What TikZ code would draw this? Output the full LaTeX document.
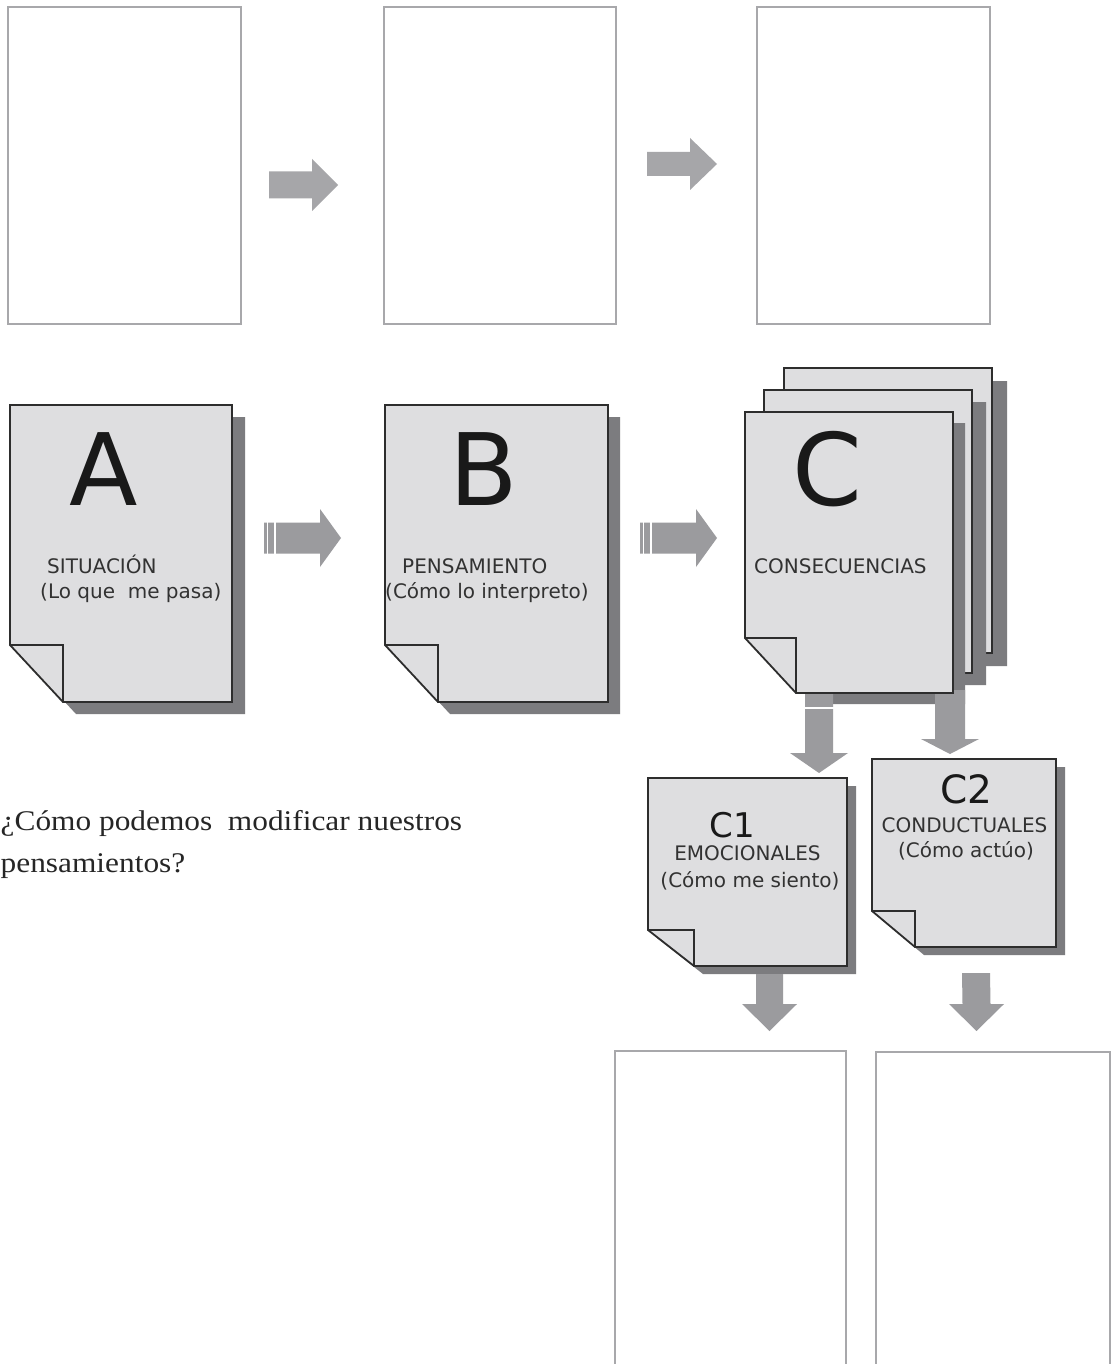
\documentclass[tikz,border=0pt]{standalone}
\usepackage{fontspec}
\usetikzlibrary{calc}
\newfontfamily\labelfont{DejaVu Sans}
\newfontfamily\qfont[FakeStretch=1.1]{Liberation Serif}

\definecolor{pagefill}{RGB}{222,222,224}
\definecolor{pageedge}{RGB}{45,45,45}
\definecolor{shadowgray}{RGB}{124,124,127}
\definecolor{arrowgray}{RGB}{155,155,158}
\definecolor{arrowlight}{RGB}{166,166,169}
\definecolor{framegray}{RGB}{168,168,171}
\definecolor{inkgray}{RGB}{50,50,50}

\tikzset{
  emptybox/.style={draw=framegray, line width=2pt, fill=white, inner sep=0pt, outer sep=0pt},
  pagearea/.style={inner sep=0pt, outer sep=0pt},
  sheet/.style={fill=pagefill, draw=pageedge, line width=1.8pt, line join=miter},
  foldline/.style={draw=pageedge, line width=1.6pt},
  bigletter/.style={font=\labelfont\fontsize{100}{100}\selectfont, text=black!90, inner sep=0pt, anchor=base},
  lbl/.style={font=\labelfont\fontsize{20}{24}\selectfont, text=inkgray, inner sep=0pt, anchor=base west},
  question/.style={font=\qfont\fontsize{28.5}{34}\selectfont, text=black!85, inner sep=0pt, anchor=base west},
  stripe/.style={draw=white, line width=1.6pt}
}

% page with a folded lower-left corner and a drop shadow
% #1 node, #2 fold width, #3 fold height, #4/#5 shadow offset
\newcommand\docpage[5]{%
  \fill[shadowgray] ($(#1.north west)+(#4,#5)$) -- ($(#1.north east)+(#4,#5)$)
    -- ($(#1.south east)+(#4,#5)$) -- ($(#1.south west)+(#2+#4,#5)$)
    -- ($(#1.south west)+(#4,-#3+#5)$) -- cycle;
  \path[sheet] (#1.north west) -- (#1.north east) -- (#1.south east)
    -- ($(#1.south west)+(#2,0)$) -- ($(#1.south west)+(0,-#3)$) -- cycle;
  \draw[foldline] ($(#1.south west)+(0,-#3)$) -- ($(#1.south west)+(#2,-#3)$)
    -- ($(#1.south west)+(#2,0)$);
}
% block arrow pointing right: #2 tail, #3 tip, #4 shaft half width, #5 head half width, #6 head length
\newcommand\arrowright[6][arrowgray]{%
  \fill[#1] ($(#2)+(0,-#4)$) -- ($(#3)+(-#6,-#4)$) -- ($(#3)+(-#6,-#5)$) -- (#3)
    -- ($(#3)+(-#6,#5)$) -- ($(#3)+(-#6,#4)$) -- ($(#2)+(0,#4)$) -- cycle;
}
% block arrow pointing down
\newcommand\arrowdown[6][arrowgray]{%
  \fill[#1] ($(#2)+(-#4,0)$) -- ($(#3)+(-#4,-#6)$) -- ($(#3)+(-#5,-#6)$) -- (#3)
    -- ($(#3)+(#5,-#6)$) -- ($(#3)+(#4,-#6)$) -- ($(#2)+(#4,0)$) -- cycle;
}

\begin{document}
\begin{tikzpicture}[x=1pt, y=-1pt]
\useasboundingbox (0,0) rectangle (1111,1364);
\fill[white] (0,0) rectangle (1111,1364);
\clip (0,0) rectangle (1111,1364);

% empty boxes of the upper row
\node[emptybox, minimum width=233pt, minimum height=317pt] (t1) at (124.5,165.5) {};
\node[emptybox, minimum width=232pt, minimum height=317pt] (t2) at (500,165.5) {};
\node[emptybox, minimum width=233pt, minimum height=317pt] (t3) at (873.5,165.5) {};

\coordinate (ta1) at (269,185);  \coordinate (tb1) at (338,185);
\coordinate (ta2) at (647,164);  \coordinate (tb2) at (717,164);
\arrowright[arrowlight]{ta1}{tb1}{13.5}{26}{26}
\arrowright[arrowlight]{ta2}{tb2}{12}{26}{27}

% A and B sheets
\node[pagearea, minimum width=222pt, minimum height=297pt] (A) at (121,553.5) {};
\node[pagearea, minimum width=223pt, minimum height=297pt] (B) at (496.5,553.5) {};
\docpage{A}{53}{57}{13}{12}
\docpage{B}{53}{57}{12}{12}

\node[bigletter] (lA) at (104,505) {A};
\node[lbl] (sA1) at (47,573) {SITUACIÓN};
\node[lbl] (sA2) at (40,598) {(Lo que~~me pasa)};
\node[bigletter] (lB) at (483.5,505) {B};
\node[lbl] (sB1) at (402,573) {PENSAMIENTO};
\node[lbl] (sB2) at (385,598) {(Cómo lo interpreto)};

% arrows between the sheets
\coordinate (ra1) at (264,538);  \coordinate (rb1) at (341,538);
\coordinate (ra2) at (640,538);  \coordinate (rb2) at (717,538);
\arrowright{ra1}{rb1}{15.5}{29}{21}
\arrowright{ra2}{rb2}{15.5}{29}{21}
\foreach \t in {ra1,ra2}{
  \draw[stripe] ($(\t)+(3.5,-16)$) -- ($(\t)+(3.5,16)$);
  \draw[stripe] ($(\t)+(11,-16)$) -- ($(\t)+(11,16)$);
}

% stack of C sheets
\node[pagearea, minimum width=208pt, minimum height=285pt] (Cb) at (888,510.5) {};
\node[pagearea, minimum width=208pt, minimum height=283pt] (Cm) at (868,531.5) {};
\node[pagearea, minimum width=208pt, minimum height=281pt] (C) at (849,552.5) {};
\docpage{Cb}{51}{55}{15}{13}
\docpage{Cm}{51}{55}{14}{12}
\fill[shadowgray] ($(C.north west)+(12,11)$) -- ($(C.north east)+(12,11)$)
  -- ($(C.south east)+(12,11)$) -- ($(C.south west)+(63,11)$) -- cycle;

% arrows leaving the stack
\coordinate (da1) at (819,690);  \coordinate (db1) at (819,773);
\coordinate (da2) at (950,690);  \coordinate (db2) at (950,754);
\arrowdown{da1}{db1}{14}{29}{20}
\arrowdown{da2}{db2}{15}{29}{15}
\draw[stripe, line width=1.4pt] ($(da1)+(-15,18)$) -- ($(da1)+(15,18)$);

\path[sheet] (C.north west) -- (C.north east) -- (C.south east)
  -- ($(C.south west)+(51,0)$) -- ($(C.south west)+(0,-55)$) -- cycle;
\draw[foldline] ($(C.south west)+(0,-55)$) -- ($(C.south west)+(51,-55)$)
  -- ($(C.south west)+(51,0)$);
\node[bigletter] (lC) at (827,505) {C};
\node[lbl] (sC) at (754,573) {CONSECUENCIAS};

% C1 and C2 sheets
\node[pagearea, minimum width=199pt, minimum height=188pt] (C1) at (747.5,872) {};
\node[pagearea, minimum width=184pt, minimum height=188pt] (C2) at (964,853) {};
\docpage{C1}{46}{36}{9}{8}
\docpage{C2}{43}{36}{9}{8}

\node[bigletter, font=\labelfont\fontsize{34}{34}\selectfont] (lC1) at (732.5,837) {C1};
\node[lbl, anchor=base] (sC1a) at (747.5,860) {EMOCIONALES};
\node[lbl, anchor=base] (sC1b) at (750,887) {(Cómo me siento)};
\node[bigletter, font=\labelfont\fontsize{39}{39}\selectfont] (lC2) at (966.5,803) {C2};
\node[lbl, anchor=base] (sC2a) at (964.5,832) {CONDUCTUALES};
\node[lbl, anchor=base] (sC2b) at (966,857) {(Cómo actúo)};

% arrows to the empty boxes of the lower row
\coordinate (ea1) at (769.5,974);  \coordinate (eb1) at (769.5,1031);
\coordinate (ea2) at (976,973);    \coordinate (eb2) at (976.5,1031);
\arrowdown{ea1}{eb1}{13.5}{27.5}{27}
\arrowdown{ea2}{eb2}{14}{27.5}{27}

\node[emptybox, minimum width=231pt, minimum height=329pt] (b1) at (730.5,1215.5) {};
\node[emptybox, minimum width=234pt, minimum height=328pt] (b2) at (993,1216) {};

% question
\node[question] (q1) at (0.5,830) {¿Cómo podemos~~modificar nuestros};
\node[question] (q2) at (0.5,872) {pensamientos?};
\end{tikzpicture}
\end{document}
